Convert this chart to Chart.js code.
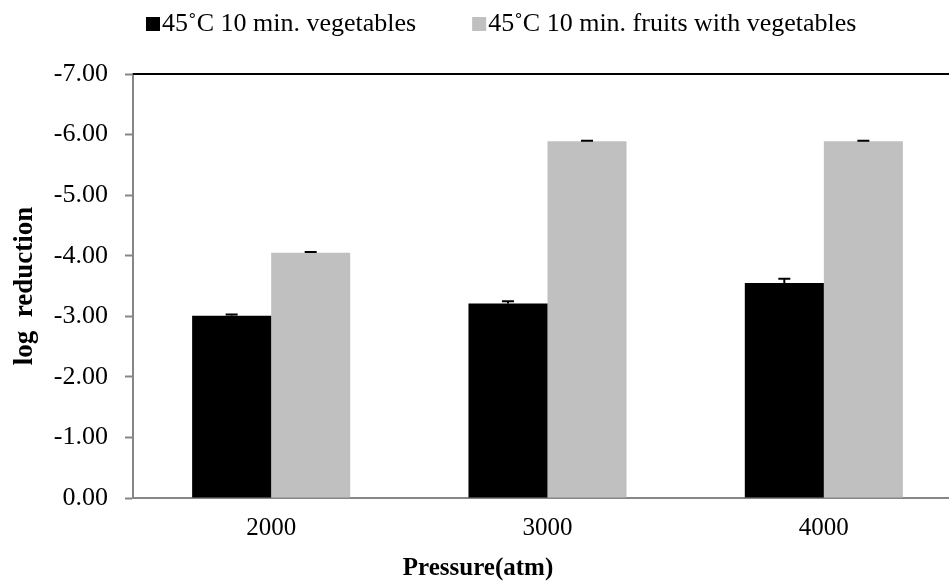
<!DOCTYPE html>
<html>
<head>
<meta charset="utf-8">
<script src="https://cdn.jsdelivr.net/npm/chart.js@4/dist/chart.umd.min.js"></script>
<style>
  html, body { margin: 0; padding: 0; background: #fff; overflow: hidden; }
  #wrap { width: 970px; height: 588px; position: relative; }
</style>
</head>
<body>
<div id="wrap"><canvas id="c"></canvas></div>
<script>
const categories = ['2000', '3000', '4000'];
const seriesNames = ['45\u02DAC 10 min. vegetables', '45\u02DAC 10 min. fruits with vegetables'];
const vegValues = [-3.01, -3.21, -3.55];
const vegErrors = [0.02, 0.04, 0.07];
const fruitValues = [-4.05, -5.89, -5.89];
const fruitErrors = [0.01, 0.01, 0.01];
const yMin = -7;
const yMax = 0;
const yStep = 1;
const xTitle = 'Pressure(atm)';
const yTitle = 'log  reduction';

const FONT = '"Liberation Serif", "Times New Roman", serif';

const errorBarPlugin = {
  id: 'errorBars',
  afterDatasetsDraw(chart) {
    const ctx = chart.ctx;
    const yScale = chart.scales.y;
    chart.data.datasets.forEach((ds, i) => {
      const meta = chart.getDatasetMeta(i);
      meta.data.forEach((bar, j) => {
        const v = ds.data[j];
        const e = ds.errors[j];
        const yEnd = yScale.getPixelForValue(v - e);
        ctx.save();
        ctx.strokeStyle = '#000';
        ctx.lineWidth = 2;
        ctx.beginPath();
        ctx.moveTo(bar.x, bar.y);
        ctx.lineTo(bar.x, yEnd);
        ctx.moveTo(bar.x - 6, yEnd);
        ctx.lineTo(bar.x + 6, yEnd);
        ctx.stroke();
        ctx.restore();
      });
    });
  }
};

const framePlugin = {
  id: 'frameTop',
  afterDraw(chart) {
    const ctx = chart.ctx;
    const a = chart.chartArea;
    ctx.save();
    ctx.strokeStyle = '#000';
    ctx.lineWidth = 2;
    ctx.beginPath();
    ctx.moveTo(a.left, a.top);
    ctx.lineTo(chart.width, a.top);
    ctx.stroke();
    // x-axis title (placed where the original figure has it)
    ctx.fillStyle = '#000';
    ctx.font = 'bold 25px ' + FONT;
    ctx.textAlign = 'center';
    ctx.textBaseline = 'middle';
    ctx.fillText(xTitle, 478, 569);
    ctx.restore();
  }
};

const legendPlugin = {
  id: 'customLegend',
  afterDraw(chart) {
    const ctx = chart.ctx;
    ctx.save();
    ctx.font = '26px ' + FONT;
    ctx.textBaseline = 'middle';
    ctx.textAlign = 'left';
    const yc = 24;
    let x = 146;
    chart.data.datasets.forEach((ds, i) => {
      ctx.fillStyle = ds.backgroundColor;
      ctx.fillRect(x, yc - 7, 14, 14);
      ctx.fillStyle = '#000';
      ctx.fillText(ds.label, x + 16, yc);
      x += 16 + ctx.measureText(ds.label).width + 56;
    });
    ctx.restore();
  }
};

new Chart(document.getElementById('c'), {
  type: 'bar',
  data: {
    labels: categories,
    datasets: [
      { label: seriesNames[0], data: vegValues, errors: vegErrors, backgroundColor: '#000000' },
      { label: seriesNames[1], data: fruitValues, errors: fruitErrors, backgroundColor: '#c0c0c0' }
    ]
  },
  options: {
    responsive: true,
    maintainAspectRatio: false,
    animation: false,
    datasets: { bar: { categoryPercentage: 0.572, barPercentage: 1.0 } },
    layout: { padding: { top: 74, right: 8, left: 0, bottom: 0 } },
    plugins: {
      legend: { display: false },
      tooltip: { enabled: false },
      title: { display: false }
    },
    scales: {
      x: {
        grid: { display: false, drawTicks: false },
        border: { display: true, color: '#868686', width: 2 },
        ticks: { color: '#000', font: { family: FONT, size: 25 }, padding: 15 },
        title: { display: false },
        afterFit(scale) { scale.height = 90; }
      },
      y: {
        reverse: true,
        min: yMin,
        max: yMax,
        grid: { display: true, drawOnChartArea: false, drawTicks: true, tickLength: 8, tickColor: '#868686', tickWidth: 2 },
        border: { display: true, color: '#868686', width: 2 },
        ticks: {
          stepSize: yStep,
          color: '#000',
          font: { family: FONT, size: 26 },
          padding: 17,
          callback: (v) => Number(v).toFixed(2)
        },
        title: { display: true, text: yTitle, color: '#000', font: { family: FONT, size: 27, weight: 'bold' }, padding: { top: 9, bottom: 0 } },
        afterFit(scale) { scale.width = 133; }
      }
    }
  },
  plugins: [errorBarPlugin, framePlugin, legendPlugin]
});
</script>
</body>
</html>
